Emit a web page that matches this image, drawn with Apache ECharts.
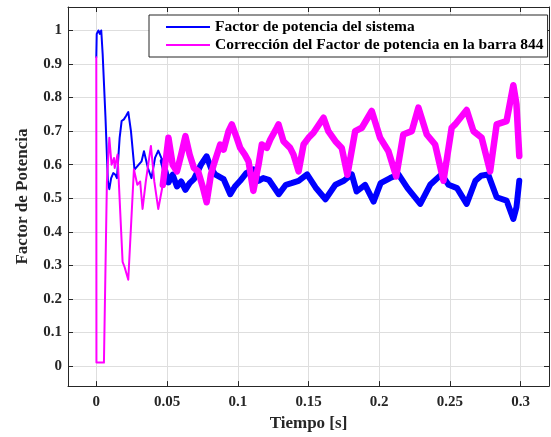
<!DOCTYPE html>
<html>
<head>
<meta charset="utf-8">
<script src="https://cdn.jsdelivr.net/npm/echarts@6/dist/echarts.min.js"></script>
<style>
html,body{margin:0;padding:0;background:#fff;}
#chart{width:551px;height:437px;}
</style>
</head>
<body>
<div id="chart"></div>
<script>
// ---- Data ----
const seriesNames = ['Factor de potencia del sistema', 'Corrección del Factor de potencia en la barra 844'];

// Factor de potencia del sistema (blue)
const sysT = [0, 0.0003, 0.0015, 0.0025, 0.0035, 0.0045, 0.0065, 0.0082, 0.0092, 0.0105, 0.012, 0.0135, 0.0146, 0.0165, 0.0179, 0.0195, 0.021, 0.0226, 0.0245, 0.027, 0.030, 0.032, 0.0337, 0.0365, 0.039, 0.0415, 0.0438, 0.047, 0.051, 0.054, 0.057, 0.060, 0.063, 0.066, 0.069, 0.074, 0.078, 0.081, 0.084, 0.090, 0.0947, 0.098, 0.1017, 0.106, 0.111, 0.1147, 0.118, 0.122, 0.129, 0.134, 0.138, 0.143, 0.149, 0.155, 0.162, 0.169, 0.175, 0.1806, 0.184, 0.190, 0.196, 0.201, 0.2077, 0.2136, 0.220, 0.229, 0.236, 0.244, 0.249, 0.255, 0.2618, 0.268, 0.272, 0.277, 0.283, 0.290, 0.2948, 0.297, 0.299];
const sysV = [0.92, 0.99, 1.0, 0.99, 1.0, 0.93, 0.74, 0.55, 0.527, 0.56, 0.575, 0.57, 0.56, 0.68, 0.73, 0.735, 0.745, 0.757, 0.70, 0.585, 0.60, 0.61, 0.64, 0.59, 0.56, 0.62, 0.642, 0.61, 0.547, 0.57, 0.535, 0.55, 0.525, 0.545, 0.557, 0.60, 0.625, 0.59, 0.571, 0.557, 0.512, 0.535, 0.552, 0.575, 0.586, 0.552, 0.56, 0.555, 0.512, 0.54, 0.545, 0.552, 0.571, 0.532, 0.497, 0.54, 0.552, 0.571, 0.52, 0.54, 0.49, 0.545, 0.56, 0.571, 0.53, 0.483, 0.54, 0.571, 0.54, 0.53, 0.483, 0.552, 0.567, 0.571, 0.503, 0.493, 0.438, 0.473, 0.552];

// Corrección del Factor de potencia en la barra 844 (magenta)
const corrT = [0, 0.0001, 0.0054, 0.0075, 0.0092, 0.0108, 0.0125, 0.013, 0.015, 0.0186, 0.020, 0.021, 0.0226, 0.0266, 0.029, 0.031, 0.0327, 0.035, 0.0386, 0.041, 0.0438, 0.047, 0.051, 0.054, 0.057, 0.060, 0.063, 0.066, 0.069, 0.072, 0.0755, 0.078, 0.081, 0.083, 0.0876, 0.090, 0.0935, 0.0958, 0.0993, 0.1017, 0.105, 0.1076, 0.111, 0.1147, 0.117, 0.1205, 0.123, 0.1276, 0.1288, 0.1323, 0.137, 0.1394, 0.143, 0.1465, 0.150, 0.1535, 0.1606, 0.164, 0.169, 0.1735, 0.1775, 0.183, 0.1877, 0.1947, 0.2006, 0.2065, 0.212, 0.217, 0.223, 0.2277, 0.2336, 0.2395, 0.2454, 0.2512, 0.2536, 0.2618, 0.2666, 0.2724, 0.2784, 0.283, 0.290, 0.2948, 0.297, 0.299];
const corrV = [0.92, 0.01, 0.01, 0.55, 0.68, 0.60, 0.62, 0.59, 0.63, 0.31, 0.295, 0.29, 0.257, 0.586, 0.54, 0.55, 0.468, 0.55, 0.656, 0.55, 0.468, 0.54, 0.68, 0.60, 0.58, 0.63, 0.685, 0.63, 0.59, 0.58, 0.53, 0.488, 0.57, 0.60, 0.66, 0.645, 0.70, 0.72, 0.68, 0.65, 0.63, 0.61, 0.522, 0.60, 0.66, 0.65, 0.675, 0.71, 0.72, 0.67, 0.65, 0.63, 0.58, 0.66, 0.68, 0.695, 0.74, 0.70, 0.67, 0.65, 0.57, 0.70, 0.71, 0.76, 0.68, 0.64, 0.565, 0.69, 0.70, 0.77, 0.69, 0.66, 0.552, 0.71, 0.72, 0.763, 0.70, 0.68, 0.58, 0.72, 0.73, 0.837, 0.78, 0.626];

// Tick labels
const xTicks = [0, 0.05, 0.1, 0.15, 0.2, 0.25, 0.3];
const yTicks = [0, 0.1, 0.2, 0.3, 0.4, 0.5, 0.6, 0.7, 0.8, 0.9, 1];

// ---- Styling ----
const NOISY_FROM = 0.045; // after this time the traces are drawn as a thick noisy band
const FONT = '"Liberation Serif", "Times New Roman", serif';
const AX = '#262626';
const GRIDC = '#dedede';

function pairs(T, V) { return T.map((t, i) => [t, V[i]]); }
function splitAt(T, V, tSplit) {
  const p = pairs(T, V);
  let i = T.findIndex(t => t >= tSplit);
  if (i < 0) i = T.length - 1;
  return [p.slice(0, i + 1), p.slice(i)];
}
const [sysThin, sysThick] = splitAt(sysT, sysV, NOISY_FROM);
const [corrThin, corrThick] = splitAt(corrT, corrV, NOISY_FROM);

function lineSeries(name, data, color, width) {
  return {
    type: 'line', name: name, data: data, showSymbol: false, symbol: 'none',
    lineStyle: { color: color, width: width, join: 'round', cap: 'round' },
    itemStyle: { color: color },
    emphasis: { disabled: true }, silent: true, animation: false
  };
}

const chart = echarts.init(document.getElementById('chart'), null, { renderer: 'canvas' });
const xMin = -0.02, xMax = 0.32, yMin = -0.06, yMax = 1.07;

function baseAxis(extra) {
  return Object.assign({
    type: 'value',
    axisLine: { show: true, onZero: false, lineStyle: { color: AX, width: 1 } },
  }, extra);
}

const option = {
  animation: false,
  backgroundColor: '#fff',
  grid: { left: 68, right: 2, top: 7, bottom: 47, containLabel: false },
  legend: {
    data: seriesNames,
    orient: 'vertical',
    left: 149, top: 15,
    icon: 'rect', itemWidth: 44, itemHeight: 2, itemGap: 2,
    padding: [4, 4, 4, 17],
    backgroundColor: '#fff',
    borderColor: AX, borderWidth: 1,
    textStyle: { fontFamily: FONT, fontWeight: 'bold', fontSize: 15.5, color: '#000', lineHeight: 16 },
    selectedMode: false
  },
  xAxis: [
    baseAxis({
      min: xMin, max: xMax, position: 'bottom',
      axisTick: { show: true, inside: true, length: 5, customValues: xTicks, lineStyle: { color: AX } },
      axisLabel: { customValues: xTicks, margin: 9, fontFamily: FONT, fontWeight: 'bold', fontSize: 15, color: '#262626' },
      splitLine: { show: true, lineStyle: { color: GRIDC, width: 1 } },
      name: 'Tiempo [s]', nameLocation: 'middle', nameGap: 26,
      nameTextStyle: { fontFamily: FONT, fontWeight: 'bold', fontSize: 17, color: '#262626' }
    }),
    baseAxis({
      min: xMin, max: xMax, position: 'top',
      axisTick: { show: true, inside: true, length: 5, customValues: xTicks, lineStyle: { color: AX } },
      axisLabel: { show: false, customValues: xTicks },
      splitLine: { show: false }
    })
  ],
  yAxis: [
    baseAxis({
      min: yMin, max: yMax, position: 'left',
      axisTick: { show: true, inside: true, length: 5, customValues: yTicks, lineStyle: { color: AX } },
      axisLabel: { customValues: yTicks, margin: 6, fontFamily: FONT, fontWeight: 'bold', fontSize: 15, color: '#262626' },
      splitLine: { show: true, lineStyle: { color: GRIDC, width: 1 } },
      name: 'Factor de Potencia', nameLocation: 'middle', nameGap: 37,
      nameTextStyle: { fontFamily: FONT, fontWeight: 'bold', fontSize: 17, color: '#262626' }
    }),
    baseAxis({
      min: yMin, max: yMax, position: 'right',
      axisTick: { show: true, inside: true, length: 5, customValues: yTicks, lineStyle: { color: AX } },
      axisLabel: { show: false, customValues: yTicks },
      splitLine: { show: false }
    })
  ],
  series: [
    lineSeries(seriesNames[0], sysThin, '#0000ff', 2),
    lineSeries(seriesNames[0], sysThick, '#0000ff', 6),
    lineSeries(seriesNames[1], corrThin, '#ff00ff', 2),
    lineSeries(seriesNames[1], corrThick, '#ff00ff', 6.5)
  ]
};
chart.setOption(option);
</script>
</body>
</html>
